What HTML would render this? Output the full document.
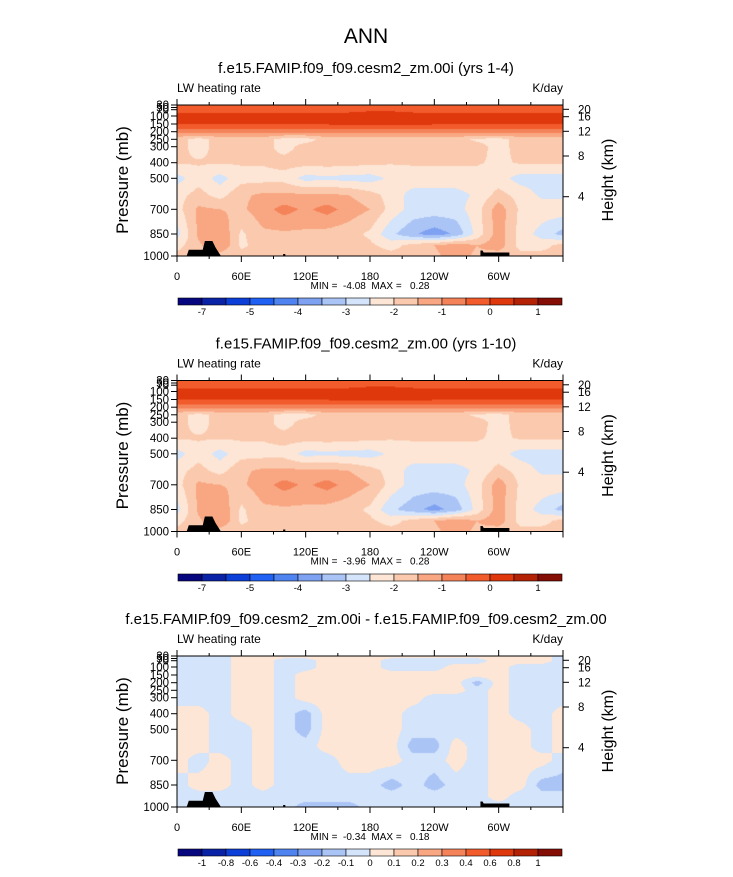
<!DOCTYPE html>
<html><head><meta charset="utf-8">
<style>
body{margin:0;background:#fff;width:733px;height:872px;overflow:hidden;font-family:"Liberation Sans",sans-serif;}
svg text{font-family:"Liberation Sans",sans-serif;fill:#000;white-space:pre;}
</style></head>
<body>
<svg id="fig" width="733" height="872" xmlns="http://www.w3.org/2000/svg">
<text x="366" y="43" font-size="21" text-anchor="middle">ANN</text>
</svg>
<script>
const levels=[30,70,100,150,200,250,300,400,500,600,700,850,925,1000];
const lons=[0,20,40,60,80,100,120,140,160,180,200,220,240,260,280,300,320,340,360];
const field1=[
[-0.3,-0.3,-0.3,-0.3,-0.3,-0.3,-0.3,-0.3,-0.3,-0.3,-0.3,-0.3,-0.3,-0.3,-0.3,-0.3,-0.3,-0.3,-0.3],
[-0.2,-0.2,-0.2,-0.2,-0.2,-0.2,-0.2,-0.2,-0.2,-0.1,-0.1,-0.2,-0.2,-0.2,-0.2,-0.2,-0.2,-0.2,-0.2],
[0.2,0.2,0.2,0.2,0.2,0.2,0.2,0.2,0.25,0.3,0.3,0.25,0.2,0.2,0.2,0.2,0.2,0.2,0.2],
[0.05,0.05,0.05,0.05,0.05,0.05,0.05,0.05,0.1,0.1,0.1,0.1,0.05,0.05,0.05,0.05,0.05,0.05,0.05],
[-0.8,-0.8,-0.8,-0.8,-0.8,-0.8,-0.8,-0.8,-0.8,-0.8,-0.8,-0.8,-0.8,-0.8,-0.8,-0.8,-0.8,-0.8,-0.8],
[-1.8,-2.2,-1.8,-1.8,-1.8,-2.2,-2.2,-1.8,-1.8,-1.8,-1.8,-1.8,-1.8,-1.8,-2.1,-2.2,-1.8,-1.8,-1.8],
[-1.8,-2.2,-1.8,-1.8,-1.8,-2.2,-1.8,-1.8,-1.8,-1.8,-1.8,-1.8,-1.8,-1.8,-1.8,-2.2,-1.8,-1.8,-1.8],
[-1.95,-1.95,-1.95,-1.95,-1.95,-1.8,-1.8,-1.8,-1.8,-1.9,-1.95,-1.95,-1.95,-1.95,-1.95,-2.1,-1.95,-1.95,-1.95],
[-2.7,-2.2,-2.7,-2.2,-2.2,-2.2,-2.7,-2.6,-2.7,-2.7,-2.4,-2.2,-2.2,-2.2,-2.2,-2.3,-2.7,-2.7,-2.7],
[-2.2,-1.8,-2.2,-1.6,-1.4,-1.4,-1.4,-1.4,-1.5,-1.8,-2.2,-2.7,-2.7,-2.7,-2.4,-1.8,-2.2,-2.6,-2.6],
[-2.2,-1.4,-1.5,-1.6,-1.2,-0.8,-1.1,-0.8,-1.2,-1.5,-2.2,-2.7,-2.7,-2.7,-2.2,-1.2,-2.1,-2.2,-2.2],
[-2.7,-1.4,-1.0,-2.1,-1.6,-1.6,-1.6,-1.7,-1.8,-2.1,-2.9,-3.4,-3.8,-3.4,-2.3,-1.2,-2.2,-2.7,-3.2],
[-2.2,-1.6,-1.0,-2.1,-1.8,-1.8,-1.9,-1.9,-1.8,-1.9,-2.2,-1.8,-1.5,-1.2,-1.5,-1.2,-2.2,-2.2,-1.8],
[-1.8,-1.8,-1.8,-1.8,-1.8,-1.8,-1.8,-1.8,-1.8,-1.8,-1.8,-1.8,-1.6,-1.3,-1.6,-1.8,-1.8,-1.8,-1.8]];
const field2=[
[-0.3,-0.3,-0.3,-0.3,-0.3,-0.3,-0.3,-0.3,-0.3,-0.3,-0.3,-0.3,-0.3,-0.3,-0.3,-0.3,-0.3,-0.3,-0.3],
[-0.2,-0.2,-0.2,-0.2,-0.2,-0.2,-0.2,-0.2,-0.2,-0.1,-0.1,-0.2,-0.2,-0.2,-0.2,-0.2,-0.2,-0.2,-0.2],
[0.2,0.2,0.2,0.2,0.2,0.2,0.2,0.2,0.25,0.3,0.3,0.25,0.2,0.2,0.2,0.2,0.2,0.2,0.2],
[0.05,0.05,0.05,0.05,0.05,0.05,0.05,0.05,0.1,0.1,0.1,0.1,0.05,0.05,0.05,0.05,0.05,0.05,0.05],
[-0.8,-0.8,-0.8,-0.8,-0.8,-0.8,-0.8,-0.8,-0.8,-0.8,-0.8,-0.8,-0.8,-0.8,-0.8,-0.8,-0.8,-0.8,-0.8],
[-1.8,-2.2,-1.8,-1.8,-1.8,-2.2,-2.2,-1.8,-1.8,-1.8,-1.8,-1.8,-1.8,-1.8,-2.1,-2.2,-1.8,-1.8,-1.8],
[-1.8,-2.2,-1.8,-1.8,-1.8,-2.2,-1.8,-1.8,-1.8,-1.8,-1.8,-1.8,-1.8,-1.8,-1.8,-2.2,-1.8,-1.8,-1.8],
[-1.95,-1.95,-1.95,-1.95,-1.95,-1.8,-1.8,-1.8,-1.8,-1.9,-1.95,-1.95,-1.95,-1.95,-1.95,-2.1,-1.95,-1.95,-1.95],
[-2.7,-2.2,-2.7,-2.2,-2.2,-2.2,-2.7,-2.6,-2.7,-2.7,-2.4,-2.2,-2.2,-2.2,-2.2,-2.3,-2.7,-2.7,-2.7],
[-2.2,-1.8,-2.2,-1.6,-1.4,-1.4,-1.4,-1.4,-1.5,-1.8,-2.2,-2.7,-2.7,-2.7,-2.4,-1.8,-2.2,-2.6,-2.6],
[-2.2,-1.4,-1.5,-1.6,-1.2,-0.8,-1.1,-0.8,-1.2,-1.5,-2.2,-2.7,-2.7,-2.7,-2.2,-1.2,-2.1,-2.2,-2.2],
[-2.7,-1.4,-1.0,-2.1,-1.6,-1.6,-1.6,-1.7,-1.8,-2.1,-2.9,-3.3,-3.7,-3.3,-2.3,-1.2,-2.2,-2.7,-3.2],
[-2.2,-1.6,-1.0,-2.1,-1.8,-1.8,-1.9,-1.9,-1.8,-1.9,-2.2,-1.8,-1.5,-1.2,-1.5,-1.2,-2.2,-2.2,-1.8],
[-1.8,-1.8,-1.8,-1.8,-1.8,-1.8,-1.8,-1.8,-1.8,-1.8,-1.8,-1.8,-1.6,-1.3,-1.6,-1.8,-1.8,-1.8,-1.8]];
const field3=[
[-0.05,-0.05,-0.05,0.05,0.05,0.05,0.05,0.05,0.05,0.05,0.05,0.05,0.05,0.05,0.05,0.05,0.05,0.05,-0.05],
[-0.05,-0.05,-0.05,0.05,0.05,-0.05,-0.05,0.05,0.05,0.05,-0.05,-0.05,-0.05,-0.05,-0.05,0.05,0.05,0.05,-0.05],
[-0.05,-0.05,-0.05,0.05,0.05,-0.05,-0.05,0.05,0.05,0.05,-0.05,-0.05,-0.05,0.05,0.05,0.05,-0.05,-0.05,-0.05],
[-0.05,-0.05,-0.05,0.05,0.05,-0.05,0.05,0.05,0.05,0.05,0.05,0.05,0.05,0.05,0.05,0.05,-0.05,-0.05,-0.05],
[-0.05,-0.05,-0.05,0.05,0.05,-0.05,0.05,0.05,0.05,0.05,0.05,0.05,0.05,0.05,-0.15,0.05,-0.05,-0.05,-0.05],
[-0.05,-0.05,-0.05,0.05,0.05,-0.05,0.05,0.05,0.05,0.05,0.05,0.05,0.05,0.05,-0.05,0.05,-0.05,-0.05,-0.05],
[-0.05,-0.05,-0.05,0.05,0.05,-0.05,0.05,0.05,0.05,0.05,0.05,0.05,-0.05,-0.05,-0.05,0.05,-0.05,-0.05,-0.05],
[0.05,0.05,-0.05,0.05,0.05,-0.05,-0.15,0.05,0.05,0.05,0.05,-0.05,-0.05,-0.05,-0.05,0.05,-0.05,-0.05,0.05],
[0.05,0.05,-0.05,-0.05,0.05,-0.05,-0.15,0.05,0.05,0.05,0.05,-0.05,-0.05,-0.05,-0.05,0.05,0.05,-0.05,0.05],
[0.05,0.05,-0.05,-0.05,0.05,-0.05,-0.05,0.05,0.05,0.05,0.05,-0.15,-0.15,0.05,-0.05,0.05,0.05,-0.05,0.05],
[0.05,-0.05,0.05,-0.05,0.05,-0.05,-0.05,-0.05,0.05,0.05,0.05,-0.05,-0.05,0.05,-0.05,0.05,0.05,0.05,-0.05],
[-0.05,0.05,0.05,-0.05,0.05,-0.05,-0.05,-0.05,-0.05,-0.05,-0.15,-0.05,-0.15,-0.05,-0.05,0.05,0.05,-0.15,-0.15],
[-0.05,-0.05,-0.05,-0.05,-0.05,-0.05,-0.05,-0.05,-0.05,-0.05,-0.05,-0.05,-0.05,-0.05,-0.05,0.05,-0.05,-0.05,-0.05],
[-0.05,-0.05,-0.05,-0.05,-0.05,-0.05,-0.15,-0.15,-0.15,-0.05,-0.05,-0.05,-0.05,-0.05,-0.05,-0.05,-0.05,-0.05,-0.05]];
const bounds12=[-7,-6,-5,-4.5,-4,-3.5,-3,-2.5,-2,-1.5,-1,-0.5,0,0.5,1];
const labels12=["-7","","-5","","-4","","-3","","-2","","-1","","0","","1"];
const bounds3=[-1,-0.8,-0.6,-0.4,-0.3,-0.2,-0.1,0,0.1,0.2,0.3,0.4,0.6,0.8,1];
const labels3=["-1","-0.8","-0.6","-0.4","-0.3","-0.2","-0.1","0","0.1","0.2","0.3","0.4","0.6","0.8","1"];
const colors=["#06067e","#0a22a6","#0b3fd8","#2060f2","#4f83f0","#7ea2f1","#abc4f6","#d3e4fb","#fde6d6","#fbcaae","#f9a783","#f5835a","#f25b2b","#de380c","#b42206","#840d05"];
const pTicks=[30,50,70,100,150,200,250,300,400,500,700,850,1000];
const pTickOff=[0,2.5,4.7,11,19,26.7,34.3,41.7,57.7,73.3,90.1,104.3,129,140.4,151];
const pOffP=[30,50,70,100,150,200,250,300,400,500,600,700,850,925,1000];
const hTicks=[20,16,12,8,4];
const hOff=[4.3,11.7,26.3,51,91.7];
const lonTicks=["0","60E","120E","180","120W","60W"];
const topo=[[9,1000],[11,955],[24,955],[26,895],[33,895],[36,940],[41,1000],[99,1000],[99,985],[101,985],[101,1000],[283,1000],[283,960],[285,960],[286,975],[310,975],[310,1000]];
const panels=[
 {top:105,field:field1,bounds:bounds12,labels:labels12,sub:"f.e15.FAMIP.f09_f09.cesm2_zm.00i (yrs 1-4)",mm:"MIN =  -4.08  MAX =   0.28",cb:298},
 {top:380.5,field:field2,bounds:bounds12,labels:labels12,sub:"f.e15.FAMIP.f09_f09.cesm2_zm.00 (yrs 1-10)",mm:"MIN =  -3.96  MAX =   0.28",cb:574},
 {top:656,field:field3,bounds:bounds3,labels:labels3,sub:"f.e15.FAMIP.f09_f09.cesm2_zm.00i - f.e15.FAMIP.f09_f09.cesm2_zm.00",mm:"MIN =  -0.34  MAX =   0.18",cb:849}];
const X0=177,X1=563,H=151,NS="http://www.w3.org/2000/svg";
const svg=document.getElementById('fig');
function xOf(lon){return X0+(X1-X0)*lon/360;}
function yOff(p){
 for(let i=0;i<pOffP.length-1;i++){if(p<=pOffP[i+1]){const f=Math.log(p/pOffP[i])/Math.log(pOffP[i+1]/pOffP[i]);return pTickOff[i]+f*(pTickOff[i+1]-pTickOff[i]);}}
 return H;}
function el(tag,attrs,parent){const e=document.createElementNS(NS,tag);for(const k in attrs)e.setAttribute(k,attrs[k]);(parent||svg).appendChild(e);return e;}
function txt(s,x,y,size,anchor,parent){const t=el('text',{x:x,y:y,'font-size':size,'text-anchor':anchor||'start'},parent);t.textContent=s;return t;}
function colorFor(v,b){let i=0;while(i<b.length&&v>=b[i])i++;return colors[i];}
panels.forEach((P,k)=>{
 const g=el('g',{});
 
 
 const st=txt(P.sub,366,P.top-32,15,'middle',g);
 
 
 const lt=txt("LW heating rate",X0,P.top-13,12,'start',g);
 
 
 const ut=txt("K/day",X1,P.top-13,12,'end',g);
 
 
 const W=X1-X0, Hh=H;
 const cv=document.createElement('canvas');cv.width=W;cv.height=Hh;
 const ctx=cv.getContext('2d');
 const ly=levels.map(p=>yOff(p));
 for(let py=0;py<Hh;py++){
  const yy=py+0.5;let j=0;while(j<ly.length-2&&yy>ly[j+1])j++;
  const fy=Math.min(1,Math.max(0,(yy-ly[j])/(ly[j+1]-ly[j])));
  for(let px=0;px<W;px++){
   const lon=(px+0.5)/W*360;let i=Math.min(lons.length-2,Math.floor(lon/20));
   const fx=(lon-lons[i])/20;const F=P.field;
   const v=(F[j][i]*(1-fx)+F[j][i+1]*fx)*(1-fy)+(F[j+1][i]*(1-fx)+F[j+1][i+1]*fx)*fy;
   ctx.fillStyle=colorFor(v,P.bounds);ctx.fillRect(px,py,1,1);
  }}
 const im=el('image',{x:X0,y:P.top,width:W,height:Hh,href:cv.toDataURL()},g);
 
 
 const tp=el('polygon',{points:topo.map(d=>xOf(d[0])+','+(P.top+yOff(d[1]))).join(' '),fill:'#000'},g);
 
 
 const fr=el('rect',{x:X0,y:P.top,width:W,height:H,fill:'none',stroke:'#000','stroke-width':1},g);
 
 
 for(let l=0;l<=360;l+=30){const x=xOf(l),len=l%60==0?6:3;
  el('line',{x1:x,y1:P.top,x2:x,y2:P.top-len,stroke:'#000'},g);
  el('line',{x1:x,y1:P.top+H,x2:x,y2:P.top+H+len,stroke:'#000'},g);}
 lonTicks.forEach((s,i)=>{const t=txt(s,xOf(i*60),P.top+H+24,11,'middle',g);
  
  });
 pTicks.forEach(p=>{const y=P.top+yOff(p);
  el('line',{x1:X0,y1:y,x2:X0-6,y2:y,stroke:'#000'},g);
  const t=txt(String(p),X0-8,y+4,11.5,'end',g);
  
  });
 hTicks.forEach((h,i)=>{const y=P.top+hOff[i];
  el('line',{x1:X1,y1:y,x2:X1+6,y2:y,stroke:'#000'},g);
  const t=txt(String(h),X1+15,y+4,11.5,'start',g);
  
  });
 const ya=txt("Pressure (mb)",0,0,17,'middle',g);ya.setAttribute('transform',`translate(128,${P.top+75}) rotate(-90)`);
 
 
 const ra=txt("Height (km)",0,0,16,'middle',g);ra.setAttribute('transform',`translate(613,${P.top+75}) rotate(-90)`);
 
 
 const mm=txt(P.mm,370,P.top+H+33,10,'middle',g);
 
 
 const cbg=el('g',{},g);
 
 
 const bw=24;
 colors.forEach((c,i)=>{const r=el('rect',{x:178+i*bw,y:P.cb,width:bw,height:7,fill:c,stroke:'#000','stroke-width':0.6},cbg);
  
  });
 P.labels.forEach((s,i)=>{if(!s)return;const t=txt(s,178+(i+1)*bw,P.cb+17,9.5,'middle',cbg);
  
  });
});
</script>
</body></html>
